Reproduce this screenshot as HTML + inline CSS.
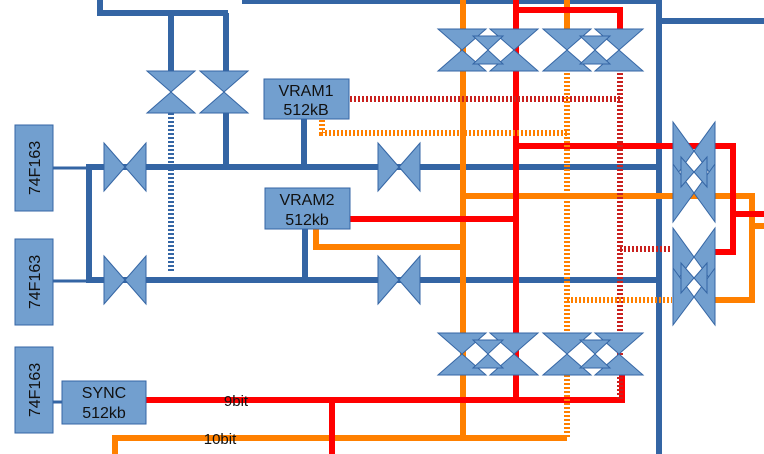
<!DOCTYPE html>
<html><head><style>body{margin:0;background:#fff}svg{display:block}</style></head><body>
<svg width="764" height="454" viewBox="0 0 764 454" xmlns="http://www.w3.org/2000/svg" font-family="Liberation Sans, sans-serif">
<defs>
<g id="bv"><polygon points="-24,-21 24,-21 0,0" /><polygon points="-24,21 24,21 0,0"/></g>
<g id="bh"><polygon points="-21,-24 -21,24 0,0"/><polygon points="21,-24 21,24 0,0"/></g>
<g id="bvs"><polygon points="-15,-14 15,-14 0,0"/><polygon points="-15,14 15,14 0,0"/></g>
<g id="bhs"><polygon points="-13,-15 -13,15 0,0"/><polygon points="13,-15 13,15 0,0"/></g>
</defs>
<g fill="none" stroke-linecap="butt">
<!-- blue -->
<g stroke="#3465a4" stroke-width="6">
<polyline points="100,0 100,13 228,13"/>
<line x1="171" y1="13" x2="171" y2="72"/>
<line x1="226" y1="13" x2="226" y2="72"/>
<line x1="242" y1="1" x2="660" y2="1"/>
<line x1="659" y1="0" x2="659" y2="454"/>
<line x1="659" y1="21" x2="764" y2="21"/>
<line x1="226" y1="113" x2="226" y2="167"/>
<line x1="89" y1="167" x2="659" y2="167"/>
<line x1="89" y1="280" x2="659" y2="280"/>
<line x1="89" y1="164" x2="89" y2="283"/>
<line x1="304" y1="119" x2="304" y2="167"/>
<line x1="305" y1="229" x2="305" y2="280"/>
</g>
<g stroke="#3465a4" stroke-width="3">
<line x1="53" y1="168" x2="89" y2="168"/>
<line x1="53" y1="281" x2="89" y2="281"/>
<line x1="53" y1="402" x2="62" y2="402"/>
</g>
<line x1="171" y1="113" x2="171" y2="273" stroke="#3465a4" stroke-width="6" stroke-dasharray="2,2"/>
<!-- orange -->
<g stroke="#ff8000" stroke-width="6">
<line x1="463" y1="0" x2="463" y2="438"/>
<line x1="567" y1="0" x2="567" y2="29"/>
<polyline points="316,229 316,247 463,247"/>
<polyline points="463,196 752,196 752,300 715,300"/>
<line x1="752" y1="226" x2="764" y2="226"/>
<polyline points="115,454 115,438 567,438"/>
</g>
<!-- red -->
<g stroke="#ff0000" stroke-width="6">
<line x1="516" y1="0" x2="516" y2="400"/>
<polyline points="516,10 620,10 620,29"/>
<line x1="350" y1="219" x2="516" y2="219"/>
<polyline points="516,146 733,146 733,252 700,252"/>
<line x1="733" y1="214" x2="764" y2="214"/>
<polyline points="146,400 622,400 622,375"/>
<line x1="332" y1="400" x2="332" y2="454"/>
</g>
<!-- dotted -->
<g stroke-width="6" stroke-dasharray="2,2">
<line x1="350" y1="99" x2="622" y2="99" stroke="#c9211e"/>
<line x1="620" y1="73" x2="620" y2="400" stroke="#c9211e"/>
<line x1="620" y1="249" x2="672" y2="249" stroke="#c9211e"/>
<polyline points="322,120 322,133 567,133" stroke="#ff8000"/>
<line x1="567" y1="73" x2="567" y2="333" stroke="#ff8000"/>
<line x1="567" y1="375" x2="567" y2="438" stroke="#ff8000"/>
<line x1="567" y1="300" x2="672" y2="300" stroke="#ff8000"/>
</g>
</g>
<!-- shapes -->
<g fill="#729fcf" stroke="#3465a4" stroke-width="1">
<use href="#bv" x="171" y="92"/><use href="#bv" x="224" y="92"/>
<use href="#bh" x="125" y="167"/><use href="#bh" x="125" y="280"/>
<use href="#bh" x="399" y="167"/><use href="#bh" x="399" y="280"/>
<use href="#bv" x="462" y="50"/><use href="#bv" x="514" y="50"/><use href="#bv" x="567" y="50"/><use href="#bv" x="619" y="50"/>
<use href="#bvs" x="488" y="50"/><use href="#bvs" x="595" y="50"/>
<use href="#bv" x="462" y="354"/><use href="#bv" x="514" y="354"/><use href="#bv" x="567" y="354"/><use href="#bv" x="619" y="354"/>
<use href="#bvs" x="488" y="354"/><use href="#bvs" x="595" y="354"/>
<g transform="translate(694,0)">
<polygon points="-21,122 -21,180 0,151"/><polygon points="21,122 21,180 0,151"/>
<polygon points="-21,164 -21,222 0,193"/><polygon points="21,164 21,222 0,193"/>
<polygon points="-21,228 -21,286 0,257"/><polygon points="21,228 21,286 0,257"/>
<polygon points="-21,268 -21,325 0,297"/><polygon points="21,268 21,325 0,297"/>
</g>
<use href="#bhs" x="694" y="172"/><use href="#bhs" x="694" y="278"/>
<rect x="15" y="125" width="38" height="86"/>
<rect x="15" y="239" width="38" height="86"/>
<rect x="15" y="347" width="38" height="86"/>
<rect x="264" y="79" width="85" height="40"/>
<rect x="265" y="188" width="85" height="41"/>
<rect x="46" y="82" width="0" height="0"/>
<rect x="62" y="381" width="84" height="43"/>
</g>
<g fill="#111" font-size="16" text-anchor="middle">
<text transform="translate(40,168) rotate(-90)">74F163</text>
<text transform="translate(40,282) rotate(-90)">74F163</text>
<text transform="translate(40,390) rotate(-90)">74F163</text>
<text x="306" y="96">VRAM1</text><text x="306" y="115">512kB</text>
<text x="307" y="205">VRAM2</text><text x="307" y="225">512kb</text>
<text x="104" y="398">SYNC</text><text x="104" y="418">512kb</text>
<text x="236" y="406" font-size="15">9bit</text>
<text x="220" y="444" font-size="15">10bit</text>
</g>
</svg>
</body></html>
